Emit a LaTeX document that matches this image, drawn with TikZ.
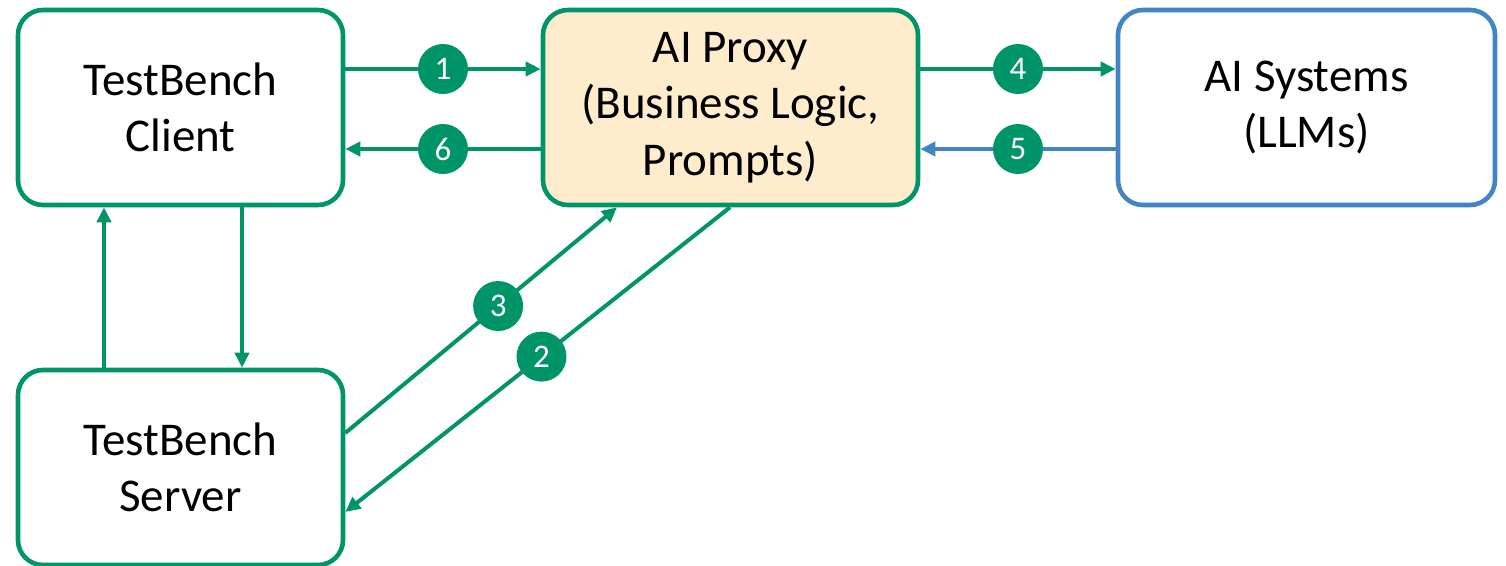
\documentclass[tikz,border=0pt]{standalone}
\usepackage{fontspec}
\setmainfont{Carlito}
\usetikzlibrary{arrows.meta}
\definecolor{tbgreen}{RGB}{0,148,105}
\definecolor{tbblue}{RGB}{66,133,197}
\definecolor{proxyfill}{RGB}{255,236,204}
\tikzset{
  box/.style={draw=tbgreen, line width=2.3pt, rounded corners=12.5pt,
    minimum width=162.5pt, minimum height=97.5pt, inner sep=0pt, align=center,
    font=\fontsize{23.5}{28.2}\selectfont},
  conn/.style={draw=tbgreen, line width=2pt, -{Triangle[length=7.5pt,width=7pt]}},
  badge/.style={circle, fill=tbgreen, text=white, minimum size=25pt, inner sep=0pt,
    font=\fontsize{16.5}{16.5}\selectfont}
}
\begin{document}
\begin{tikzpicture}[x=0.5pt,y=-0.5pt]
\useasboundingbox (0,0) rectangle (1506,566);
\node[box] (client) at (180.5,107.5) {TestBench\\Client};
\node[box] (server) at (180.5,467.5) {TestBench\\Server};
\node[box, fill=proxyfill, minimum width=187.5pt] (proxy) at (730.5,107.5) {AI Proxy\\(Business Logic,\\Prompts)};
\node[box, draw=tbblue, minimum width=188.5pt] (ai) at (1306.5,107.5) {AI Systems\\(LLMs)};

\draw[conn] (client.east |- 0,69) -- node[badge] (b1) {1} (proxy.west |- 0,69);
\draw[conn] (proxy.west |- 0,149) -- node[badge] (b6) {6} (client.east |- 0,149);
\draw[conn] (proxy.east |- 0,69) -- node[badge] (b4) {4} (ai.west |- 0,69);
\draw[conn, draw=tbblue, color=tbblue] (ai.west |- 0,149) -- node[badge] (b5) {5} (proxy.east |- 0,149);
\draw[conn] (server.north -| 104,0) -- (client.south -| 104,0);
\draw[conn] (client.south -| 242,0) -- (server.north -| 242,0);
\draw[conn] (server.east |- 0,433) -- node[badge, pos=0.5625] (b3) {3} (proxy.south -| 617,0);
\draw[conn] (proxy.south -| 730,0) -- node[badge, pos=0.49] (b2) {2} (server.east |- 0,512);
\end{tikzpicture}
\end{document}
